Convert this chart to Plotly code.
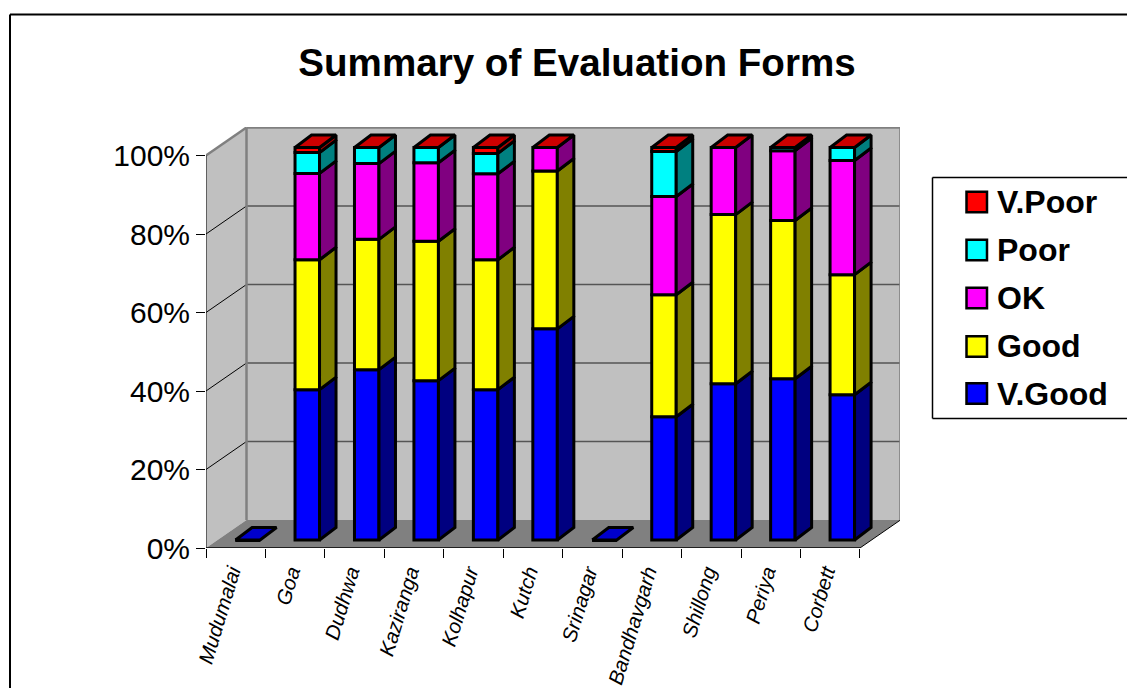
import plotly.graph_objects as go

categories = ["Mudumalai", "Goa", "Dudhwa", "Kaziranga", "Kolhapur", "Kutch",
              "Srinagar", "Bandhavgarh", "Shillong", "Periya", "Corbett"]
v_good = [0, 38.3, 43.4, 40.6, 38.3, 53.8, 0, 31.4, 39.8, 41.1, 37.0]
good   = [0, 33.1, 33.2, 35.5, 33.1, 40.2, 0, 31.1, 43.1, 40.3, 30.6]
ok     = [0, 22.0, 19.3, 20.0, 21.9, 6.0, 0, 25.0, 17.1, 17.8, 29.1]
poor   = [0, 5.3, 4.1, 3.9, 5.2, 0, 0, 11.5, 0, 0.8, 3.3]
v_poor = [0, 1.3, 0, 0, 1.5, 0, 0, 1.0, 0, 0, 0]
series_names = ["V.Good", "Good", "OK", "Poor", "V.Poor"]
series_values = [v_good, good, ok, poor, v_poor]
front_colors = ["#0000FF", "#FFFF00", "#FF00FF", "#00FFFF", "#FF0000"]
side_colors = ["#000080", "#808000", "#800080", "#008080", "#B00000"]
TOP_RED = "#CC0000"
TOP_BLUE = "#0000CC"
y_ticks = [0, 20, 40, 60, 80, 100]
y_labels = ["0%", "20%", "40%", "60%", "80%", "100%"]

W, H = 1127, 688
# plot geometry in pixels
PX_L, PX_R, PX_B, PX_T = 206, 900, 548, 127
PX_PER_CAT = 59.45
PX_PER_PCT = 3.925
XMIN = -0.5
XMAX = XMIN + (PX_R - PX_L) / PX_PER_CAT
YMAX = (PX_B - PX_T) / PX_PER_PCT
WALL_DX = 40.5 / PX_PER_CAT
WALL_DY = 28 / PX_PER_PCT
N = len(categories)
XEND = N - 0.5
BAR_W = 24.5 / PX_PER_CAT
BAR_OFF = 12.1 / PX_PER_CAT
BAR_BASE = 8 / PX_PER_PCT
SIDE_DX = 16.5 / PX_PER_CAT
SIDE_DY = 12.5 / PX_PER_PCT
OUT = 3
LABEL_SHIFT = 4.5 / PX_PER_CAT

fig = go.Figure()
idx = list(range(N))
cum = [0.0] * N
segments = []
for name, vals, fc, sc in zip(series_names, series_values, front_colors, side_colors):
    bases = [c + BAR_BASE for c in cum]
    fig.add_trace(go.Bar(
        x=idx, y=vals, base=bases, name=name, width=BAR_W,
        offset=BAR_OFF - BAR_W / 2,
        marker=dict(color=fc, line=dict(color="black", width=OUT)),
        showlegend=False, hoverinfo="skip"))
    segments.append((bases, vals, sc))
    cum = [c + v for c, v in zip(cum, vals)]

# side faces, computed from the stacks
for bases, vals, sc in segments:
    xs, ys = [], []
    for i in idx:
        if vals[i] <= 0:
            continue
        xr = i + BAR_OFF + BAR_W / 2
        b, t = bases[i], bases[i] + vals[i]
        xs += [xr, xr + SIDE_DX, xr + SIDE_DX, xr, xr, None]
        ys += [b, b + SIDE_DY, t + SIDE_DY, t, b, None]
    fig.add_trace(go.Scatter(x=xs, y=ys, mode="lines", fill="toself", fillcolor=sc,
                             line=dict(color="black", width=OUT), showlegend=False,
                             hoverinfo="skip"))

# top faces
for color, test in ((TOP_RED, lambda c: c > 0), (TOP_BLUE, lambda c: c <= 0)):
    xs, ys = [], []
    for i in idx:
        if not test(cum[i]):
            continue
        xl = i + BAR_OFF - BAR_W / 2
        xr = xl + BAR_W
        t = cum[i] + BAR_BASE
        xs += [xl, xr, xr + SIDE_DX, xl + SIDE_DX, xl, None]
        ys += [t, t, t + SIDE_DY, t + SIDE_DY, t, None]
    fig.add_trace(go.Scatter(x=xs, y=ys, mode="lines", fill="toself", fillcolor=color,
                             line=dict(color="black", width=OUT), showlegend=False,
                             hoverinfo="skip"))

shapes = []
def poly(pts, fill, layer="below"):
    path = "M " + " L ".join(f"{x},{y}" for x, y in pts) + " Z"
    shapes.append(dict(type="path", path=path, xref="x", yref="y", fillcolor=fill,
                       line=dict(width=0), layer=layer))
def seg(x0, y0, x1, y1, color, width):
    shapes.append(dict(type="line", x0=x0, y0=y0, x1=x1, y1=y1, xref="x", yref="y",
                       line=dict(color=color, width=width), layer="below"))

# walls and floor
poly([(XMIN, 0), (XMIN + WALL_DX, WALL_DY), (XMIN + WALL_DX, 100 + WALL_DY), (XMIN, 100)], "#C0C0C0")
poly([(XMIN + WALL_DX, WALL_DY), (XEND + WALL_DX, WALL_DY), (XEND + WALL_DX, 100 + WALL_DY),
      (XMIN + WALL_DX, 100 + WALL_DY)], "#C0C0C0")
poly([(XMIN, 0), (XEND, 0), (XEND + WALL_DX, WALL_DY), (XMIN + WALL_DX, WALL_DY)], "#808080")
for t in y_ticks[1:-1]:
    seg(XMIN, t, XMIN + WALL_DX, t + WALL_DY, "#000000", 1)
    seg(XMIN + WALL_DX, t + WALL_DY, XEND + WALL_DX, t + WALL_DY, "#555555", 1.5)
GE = "#808080"
seg(XMIN, 100, XMIN + WALL_DX, 100 + WALL_DY, GE, 2.5)
seg(XMIN + WALL_DX, 100 + WALL_DY, XEND + WALL_DX, 100 + WALL_DY, GE, 2.5)
seg(XMIN + WALL_DX, WALL_DY, XMIN + WALL_DX, 100 + WALL_DY, GE, 2.5)
seg(XEND + WALL_DX, WALL_DY, XEND + WALL_DX, 100 + WALL_DY, GE, 2.5)
seg(XMIN, 0, XEND, 0, "#000000", 1.5)
seg(XMIN, 0, XMIN, 100, "#000000", 1)
seg(XEND, 0, XEND + WALL_DX, WALL_DY, "#000000", 1)

def pline(x0, y0, x1, y1, width=1.5):
    shapes.append(dict(type="line", xref="paper", yref="paper", x0=x0 / W, x1=x1 / W,
                       y0=1 - y0 / H, y1=1 - y1 / H, line=dict(color="black", width=width)))
# chart frame, cropped by the page at right and bottom
pline(10, 14.5, W, 14.5, 2)
pline(10, 14.5, 10, H, 2)
# legend frame
pline(932.5, 177.5, W, 177.5)
pline(932.5, 177.5, 932.5, 418.5)
pline(932.5, 418.5, W, 418.5)

# legend entries, top to bottom
annotations = []
legend_centers = [202, 250, 298, 346.5, 393.5]
for cy, name, fc in zip(legend_centers, reversed(series_names), reversed(front_colors)):
    shapes.append(dict(type="rect", xref="paper", yref="paper",
                       x0=966.5 / W, x1=987 / W, y0=1 - (cy + 10.25) / H, y1=1 - (cy - 10.25) / H,
                       fillcolor=fc, line=dict(color="black", width=2.5)))
    annotations.append(dict(text=f"<b>{name}</b>", xref="paper", yref="paper", x=995 / W,
                            y=1 - cy / H, xanchor="left", yanchor="middle", showarrow=False,
                            font=dict(size=32, color="black")))

fig.update_layout(
    width=W, height=H, margin=dict(l=0, r=0, t=0, b=0, autoexpand=False),
    paper_bgcolor="white", plot_bgcolor="rgba(0,0,0,0)", barmode="overlay",
    font=dict(family="Liberation Sans, Arial, sans-serif", color="black"),
    title=dict(text="<b>Summary of Evaluation Forms</b>", x=577 / W, xanchor="center",
               y=1 - 62 / H, yanchor="middle", font=dict(size=38.6, color="black")),
    xaxis=dict(domain=[PX_L / W, PX_R / W], range=[XMIN, XMAX], showgrid=False, zeroline=False,
               showline=False, tickmode="array", tickvals=[i - LABEL_SHIFT for i in idx],
               ticktext=categories,
               ticks="outside", ticklen=3, tickcolor="rgba(0,0,0,0)", tickangle=-73,
               tickfont=dict(size=20.5, style="italic", family="Liberation Sans, Arial, sans-serif"),
               minor=dict(tickmode="array", tickvals=[i - 0.5 for i in range(N + 1)],
                          ticks="outside", ticklen=9, tickcolor="black", tickwidth=1)),
    yaxis=dict(domain=[1 - PX_B / H, 1 - PX_T / H], range=[0, YMAX], showgrid=False, zeroline=False,
               showline=False, tickmode="array", tickvals=y_ticks, ticktext=y_labels,
               ticks="outside", ticklen=9, tickcolor="black", tickwidth=1,
               tickfont=dict(size=30)),
    shapes=shapes, annotations=annotations, showlegend=False,
)

fig.write_html("out.html", post_script="document.body.style.margin='0';",
               config={"displayModeBar": False})
